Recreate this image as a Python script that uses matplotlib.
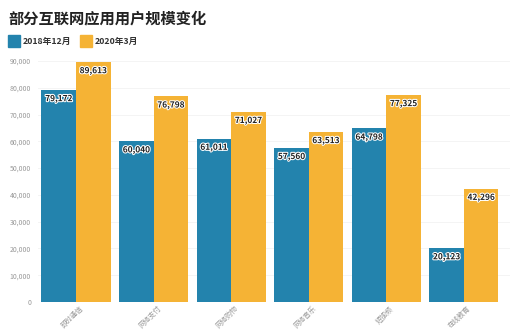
import matplotlib
matplotlib.use("Agg")
import matplotlib.pyplot as plt
import matplotlib.patheffects as pe
import matplotlib.transforms as mtransforms
import numpy as np
from matplotlib.patches import Rectangle

plt.rcParams['font.family'] = ['Noto Sans CJK SC', 'DejaVu Sans']

categories = ["即时通信", "网络支付", "网络购物", "网络音乐", "短视频", "在线教育"]
users_2018 = [79172, 60040, 61011, 57560, 64798, 20123]
users_2020 = [89613, 76798, 71027, 63513, 77325, 42296]
series_names = ["2018年12月", "2020年3月"]
y_ticks = [0, 10000, 20000, 30000, 40000, 50000, 60000, 70000, 80000, 90000]

BLUE = "#2383ad"
ORANGE = "#f5b335"

fig = plt.figure(figsize=(5.2, 3.33), dpi=100)
ax = fig.add_axes([38 / 520, 1 - 302 / 333, 472 / 520, 241 / 333])

x = np.arange(len(categories))
w = 0.445
b1 = ax.bar(x - w / 2, users_2018, width=w, color=BLUE, zorder=2)
b2 = ax.bar(x + w / 2, users_2020, width=w, color=ORANGE, zorder=2)

halo = [pe.withStroke(linewidth=1.5, foreground="white")]
for bars in (b1, b2):
    for rect in bars:
        v = rect.get_height()
        ax.annotate(f"{v:,}", (rect.get_x() + rect.get_width() / 2, v),
                    xytext=(0, -3), textcoords="offset points",
                    ha="center", va="top", fontsize=6, fontweight="bold",
                    color="#222222", path_effects=halo, zorder=3)

ax.set_xlim(-0.49, 5.595)
ax.set_ylim(0, 90000)
ax.set_yticks(y_ticks)
ax.set_yticklabels([f"{t:,}" for t in y_ticks])
ax.set_xticks(x)
ax.set_xticklabels(categories, rotation=45, ha="right", va="center",
                   rotation_mode="anchor")
ax.tick_params(axis="both", length=0, labelsize=5, labelcolor="#999999")
ax.tick_params(axis="x", pad=4)
ax.tick_params(axis="y", pad=5)
# nudge category labels so they hang just right of each group centre
shift = mtransforms.ScaledTranslation(6 / 100, 0, fig.dpi_scale_trans)
for lbl in ax.get_xticklabels():
    lbl.set_transform(lbl.get_transform() + shift)
ax.grid(axis="y", color="#f2f2f2", linewidth=0.6, zorder=0)
for s in ax.spines.values():
    s.set_visible(False)

fig.text(8 / 520, 1 - 18 / 333, "部分互联网应用用户规模变化", fontsize=11,
         fontweight="bold", color="#222222", va="center", ha="left")

# legend swatches drawn in figure coords
for i, (name, col) in enumerate(zip(series_names, [BLUE, ORANGE])):
    x0 = [8, 80][i]
    fig.patches.append(Rectangle((x0 / 520, 1 - 47 / 333), 12 / 520, 12 / 333,
                                 transform=fig.transFigure, color=col))
    fig.text((x0 + 15) / 520, 1 - 41 / 333, name, fontsize=6.3, fontweight="bold",
             color="#333333", va="center", ha="left")

fig.savefig("out.png", dpi=100, facecolor="white")
